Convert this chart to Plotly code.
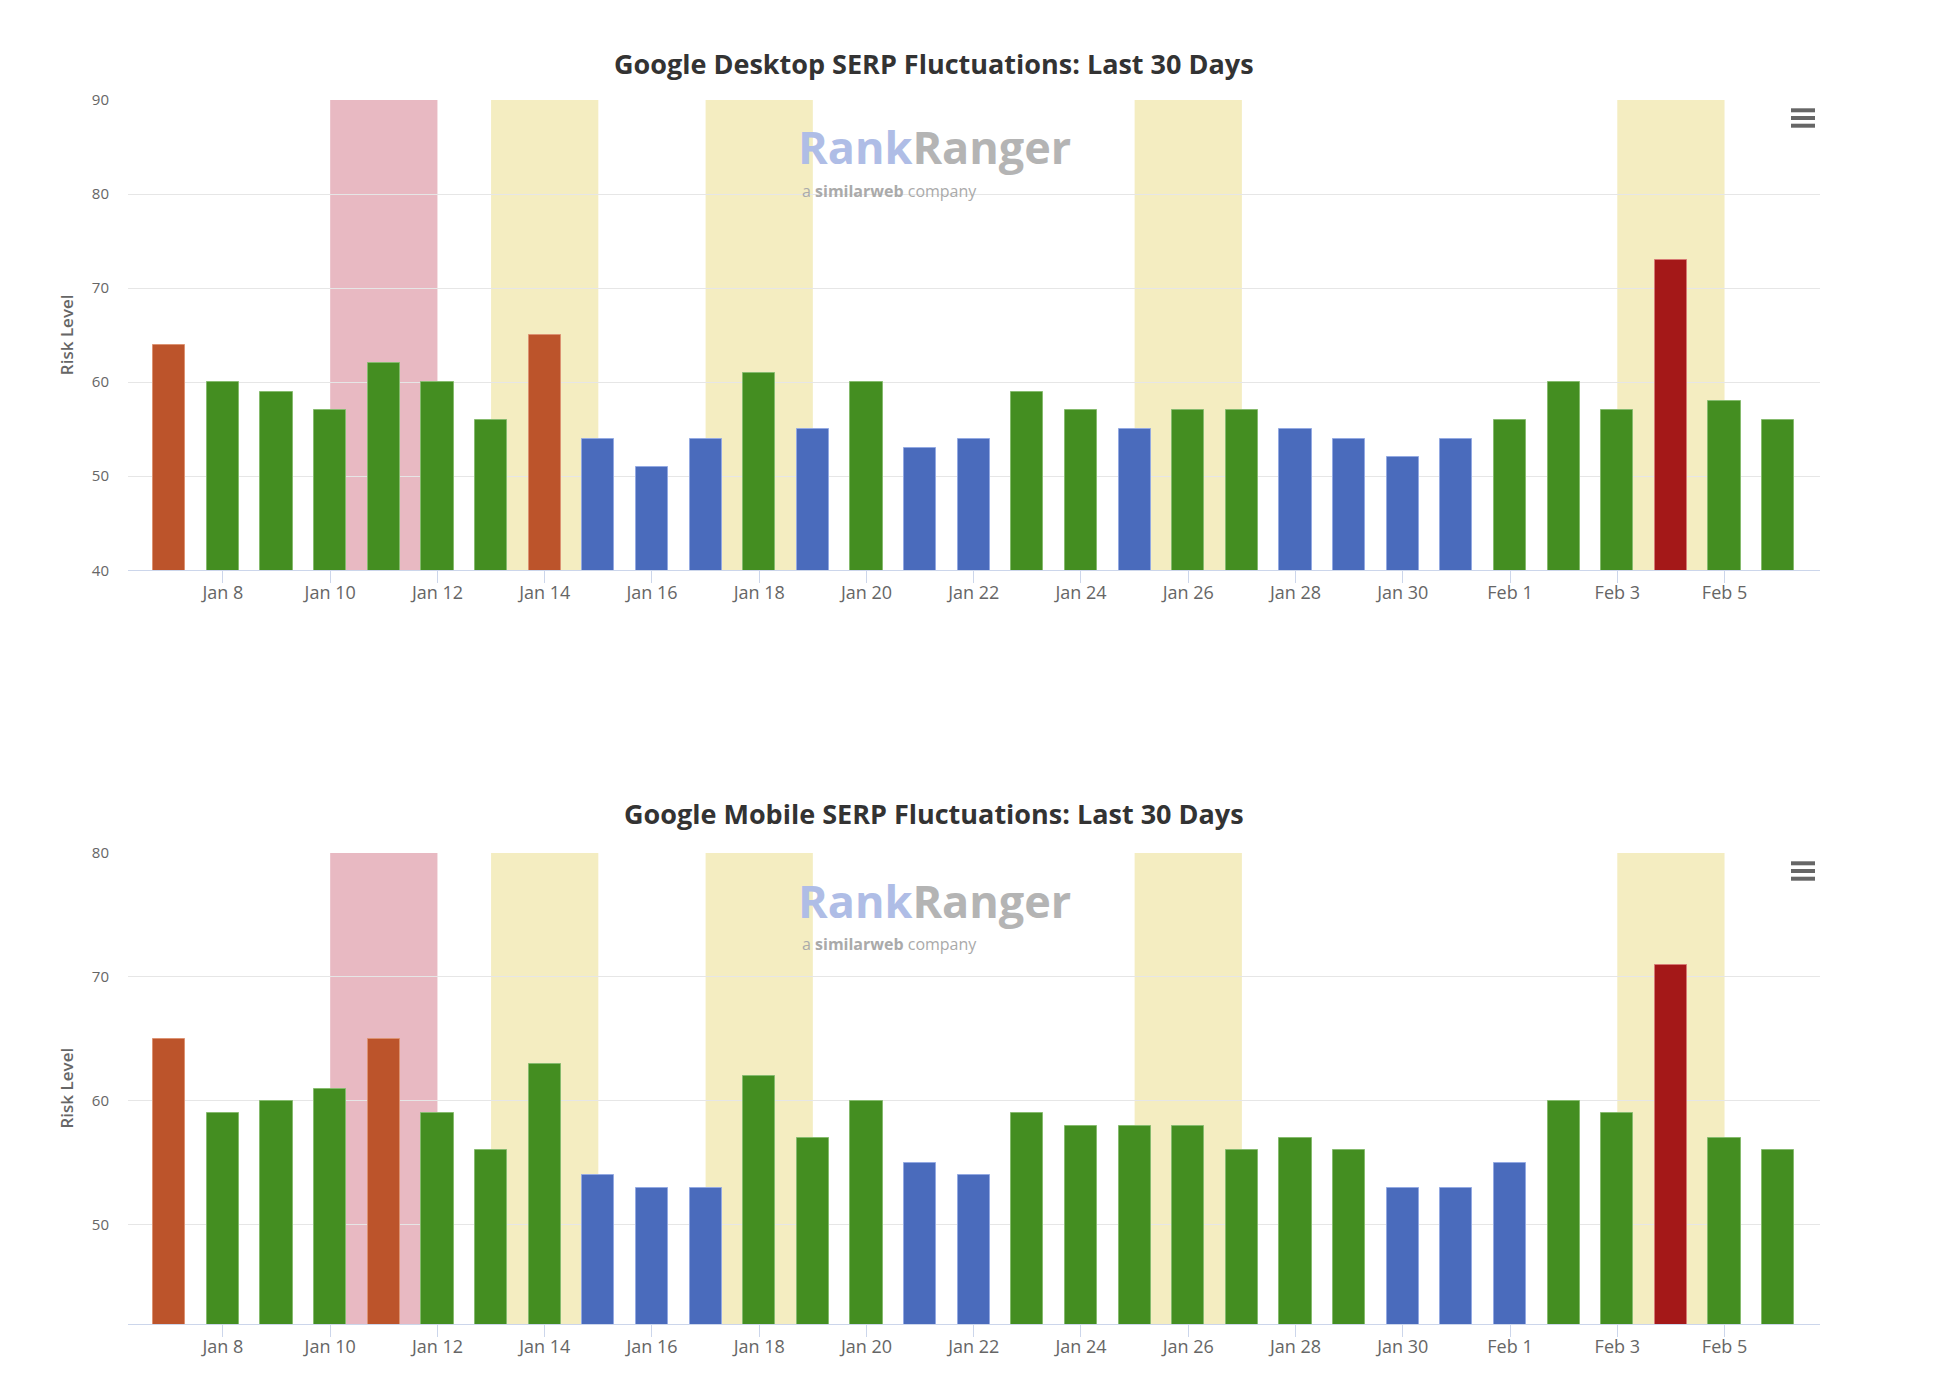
import plotly.graph_objects as go
from datetime import datetime, timedelta

# ---------------- data ----------------
dates = [
    "2024-01-07", "2024-01-08", "2024-01-09", "2024-01-10", "2024-01-11", "2024-01-12",
    "2024-01-13", "2024-01-14", "2024-01-15", "2024-01-16", "2024-01-17", "2024-01-18",
    "2024-01-19", "2024-01-20", "2024-01-21", "2024-01-22", "2024-01-23", "2024-01-24",
    "2024-01-25", "2024-01-26", "2024-01-27", "2024-01-28", "2024-01-29", "2024-01-30",
    "2024-01-31", "2024-02-01", "2024-02-02", "2024-02-03", "2024-02-04", "2024-02-05",
    "2024-02-06",
]
desktop_values = [64, 60, 59, 57, 62, 60, 56, 65, 54, 51, 54, 61, 55, 60, 53, 54,
                  59, 57, 55, 57, 57, 55, 54, 52, 54, 56, 60, 57, 73, 58, 56]
mobile_values = [65, 59, 60, 61, 65, 59, 56, 63, 54, 53, 53, 62, 57, 60, 55, 54,
                 59, 58, 58, 58, 56, 57, 56, 53, 53, 55, 60, 59, 71, 57, 56]

chart_titles = ["Google Desktop SERP Fluctuations: Last 30 Days",
                "Google Mobile SERP Fluctuations: Last 30 Days"]
y_title = "Risk Level"

red_bands = [("2024-01-10", "2024-01-12")]
yellow_bands = [("2024-01-13", "2024-01-15"), ("2024-01-17", "2024-01-19"),
                ("2024-01-25", "2024-01-27"), ("2024-02-03", "2024-02-05")]

# ---------------- styling ----------------
FONT = "Open Sans"
fill_colors = {"blue": "#4a6bbc", "green": "#448e21", "orange": "#bc542b", "red": "#a41818"}
line_colors = {"blue": "#93a9e2", "green": "#86bb6e", "orange": "#dc9272", "red": "#d77a74"}


def level(v):
    if v <= 55:
        return "blue"
    if v <= 63:
        return "green"
    if v <= 70:
        return "orange"
    return "red"


DAY_MS = 86400000
first = datetime.fromisoformat(dates[0])
last = datetime.fromisoformat(dates[-1])
x_range = [(first - timedelta(days=0.77)).isoformat(), (last + timedelta(days=0.78)).isoformat()]

# page has an 8px body margin; figure sized to fit inside the window
W, H = 1935, 1366
ML, MR, MT, MB = 120, 123, 92, 50
PW, PH = W - ML - MR, H - MT - MB
PAGE_LEFT, PAGE_BOTTOM = 128, 1324   # plot-area edges in page pixels


def py(pix):  # page pixel y -> paper y
    return (PAGE_BOTTOM - pix) / PH


def px(pix):  # page pixel x -> paper x
    return (pix - PAGE_LEFT) / PW


top_domain = [py(570.3), 1.0]
bot_domain = [0.0, py(853)]

fig = go.Figure()

for i, vals in enumerate([desktop_values, mobile_values]):
    cats = [level(v) for v in vals]
    fig.add_trace(go.Bar(
        x=dates, y=vals,
        width=[0.6 * DAY_MS] * len(vals),
        marker=dict(color=[fill_colors[c] for c in cats],
                    line=dict(color=[line_colors[c] for c in cats], width=1)),
        xaxis="x" if i == 0 else "x2", yaxis="y" if i == 0 else "y2",
        showlegend=False, hoverinfo="x+y",
    ))

shapes = []
for xr, yr in [("x", "y domain"), ("x2", "y2 domain")]:
    for a, b in red_bands:
        shapes.append(dict(type="rect", xref=xr, yref=yr, x0=a, x1=b, y0=0, y1=1,
                           fillcolor="#e8b9c2", line=dict(width=0), layer="below"))
    for a, b in yellow_bands:
        shapes.append(dict(type="rect", xref=xr, yref=yr, x0=a, x1=b, y0=0, y1=1,
                           fillcolor="#f4edc1", line=dict(width=0), layer="below"))

# hamburger menu icons
for off in (0, 753):
    for yy in (110.3, 118, 125.7):
        shapes.append(dict(type="line", xref="paper", yref="paper",
                           x0=px(1791), x1=px(1815), y0=py(yy + off), y1=py(yy + off),
                           line=dict(color="#666666", width=4)))

annotations = []
for off, title, dom in [(0, chart_titles[0], top_domain), (751, chart_titles[1], bot_domain)]:
    annotations.append(dict(text=title, xref="paper", yref="paper", x=px(934), y=py(63 + off),
                            xanchor="center", yanchor="middle", showarrow=False,
                            font=dict(family=FONT, size=27, color="#333333", weight=700)))
    annotations.append(dict(text=y_title, xref="paper", yref="paper", x=px(66),
                            y=(dom[0] + dom[1]) / 2, textangle=-90,
                            xanchor="center", yanchor="middle", showarrow=False,
                            font=dict(family=FONT, size=17, color="#666666", weight=600)))
for off in (0, 753):
    annotations.append(dict(
        text="<span style='color:#afbde6'>Rank</span><span style='color:#b4b4b4'>Ranger</span>",
        xref="paper", yref="paper", x=px(934), y=py(147 + off), xanchor="center", yanchor="middle",
        showarrow=False, borderpad=0, font=dict(family=FONT, size=45, weight=700)))
    annotations.append(dict(
        text="a <b>similarweb</b> company", xref="paper", yref="paper", x=px(801), y=py(191 + off),
        xanchor="left", yanchor="middle", showarrow=False, borderpad=0,
        font=dict(family=FONT, size=16, color="#aaaaaa")))

xaxis_common = dict(
    type="date", range=x_range, tick0="2024-01-08", dtick=2 * DAY_MS, tickformat="%b %-d",
    showgrid=False, zeroline=False, showline=True, linecolor="#ccd6eb", linewidth=1,
    ticks="outside", ticklen=12, tickcolor="#ccd6eb", tickwidth=1, ticklabelstandoff=-6,
    tickfont=dict(family=FONT, size=18, color="#666666"),
)
yaxis_common = dict(
    showgrid=True, gridcolor="#e6e6e6", gridwidth=1, zeroline=False, showline=False,
    ticks="", dtick=10, ticklabelstandoff=18,
    tickfont=dict(family=FONT, size=15, color="#666666"),
)

fig.update_layout(
    width=W, height=H, autosize=False,
    margin=dict(l=ML, r=MR, t=MT, b=MB),
    paper_bgcolor="white", plot_bgcolor="white",
    bargap=0, barmode="overlay",
    xaxis=dict(domain=[0, 1], anchor="y", **xaxis_common),
    xaxis2=dict(domain=[0, 1], anchor="y2", **xaxis_common),
    yaxis=dict(domain=top_domain, anchor="x", range=[40, 90], tick0=40, **yaxis_common),
    yaxis2=dict(domain=bot_domain, anchor="x2", range=[42, 80], tick0=40, **yaxis_common),
    shapes=shapes, annotations=annotations,
    font=dict(family=FONT),
)

fig.write_html("out.html", config={"displayModeBar": False})
